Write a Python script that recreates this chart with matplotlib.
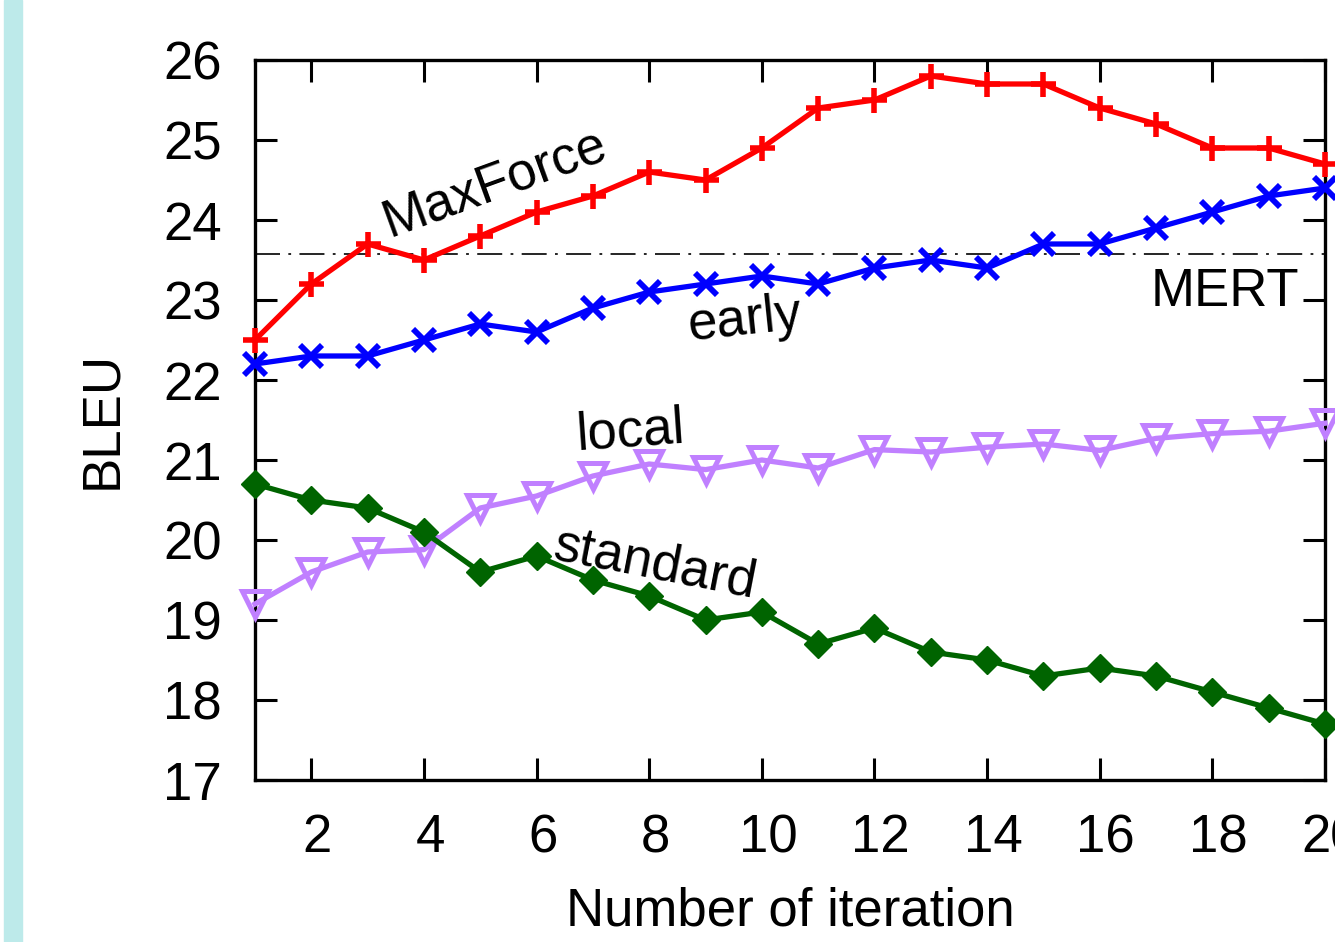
import matplotlib
matplotlib.use('Agg')
import matplotlib.pyplot as plt
from matplotlib.patches import Rectangle
from matplotlib.transforms import ScaledTranslation

plt.rcParams['font.family'] = ['Liberation Sans', 'DejaVu Sans']
plt.rcParams['lines.scale_dashes'] = False

iters = list(range(1, 21))
maxforce = [22.5, 23.2, 23.7, 23.5, 23.8, 24.1, 24.3, 24.6, 24.5, 24.9,
            25.4, 25.5, 25.8, 25.7, 25.7, 25.4, 25.2, 24.9, 24.9, 24.7]
early = [22.2, 22.3, 22.3, 22.5, 22.7, 22.6, 22.9, 23.1, 23.2, 23.3,
         23.2, 23.4, 23.5, 23.4, 23.7, 23.7, 23.9, 24.1, 24.3, 24.4]
local = [19.2, 19.6, 19.85, 19.88, 20.4, 20.55, 20.8, 20.95, 20.88, 21.0,
         20.9, 21.13, 21.1, 21.16, 21.2, 21.12, 21.27, 21.33, 21.36, 21.46]
standard = [20.7, 20.5, 20.4, 20.1, 19.6, 19.8, 19.5, 19.3, 19.0, 19.1,
            18.7, 18.9, 18.6, 18.5, 18.3, 18.4, 18.3, 18.1, 17.9, 17.7]
mert = 23.57

xticks = list(range(2, 21, 2))
yticks = list(range(17, 27))

W, H = 1335, 942
fig = plt.figure(figsize=(W / 100, H / 100), dpi=100)
ax = fig.add_axes([255 / W, 1 - 780 / H, 1070 / W, 720 / H])

# cyan strip on the left edge
fig.patches.append(Rectangle((4 / W, 0), 18 / W, 1, transform=fig.transFigure,
                             color='#bdeaea', zorder=0))

ax.axhline(mert, color='black', lw=1.2, ls=(0, (18, 6, 2, 6)), zorder=1)

ax.plot(iters, maxforce, color='#ff0000', lw=3.8, marker='+', ms=18, mew=4, clip_on=False, zorder=4)
ax.plot(iters, early, color='#0000ff', lw=3.8, marker='x', ms=16, mew=4.2, clip_on=False, zorder=4)
ax.plot(iters, local, color='#c080ff', lw=3.8, marker='v', ms=19, mew=3.6,
        mfc='none', clip_on=False, zorder=3)
ax.plot(iters, standard, color='#006400', lw=3.8, marker='D', ms=14, clip_on=False, zorder=3)

fs = 38
ax.text(5.26, 24.46, 'MaxForce', fontsize=fs, rotation=20, ha='center', va='center', rotation_mode='anchor')
ax.text(9.7, 22.75, 'early', fontsize=fs, rotation=6, ha='center', va='center', rotation_mode='anchor')
ax.text(7.66, 21.35, 'local', fontsize=fs, rotation=4, ha='center', va='center', rotation_mode='anchor')
ax.text(8.1, 19.69, 'standard', fontsize=fs, rotation=-11, ha='center', va='center', rotation_mode='anchor')
ax.text(19.55, 23.1, 'MERT', fontsize=fs, ha='right', va='center')

ax.set_xlim(1, 20)
ax.set_ylim(17, 26)
ax.set_xticks(xticks)
ax.set_yticks(yticks)
ax.tick_params(direction='in', length=16, width=2.2, top=True, right=True,
               labelsize=fs, pad=24)
for s in ax.spines.values():
    s.set_linewidth(2.4)

off = ScaledTranslation(6 / 100, 0, fig.dpi_scale_trans)
for lab in ax.get_xticklabels():
    lab.set_transform(lab.get_transform() + off)

ax.set_xlabel('Number of iteration', fontsize=fs, va='center')
ax.xaxis.set_label_coords(0.5, (780 - 912) / 720)
ax.set_ylabel('BLEU', fontsize=fs, va='center')
ax.yaxis.set_label_coords((102 - 255) / 1070, 0.5)

fig.savefig('out.png', dpi=100)
